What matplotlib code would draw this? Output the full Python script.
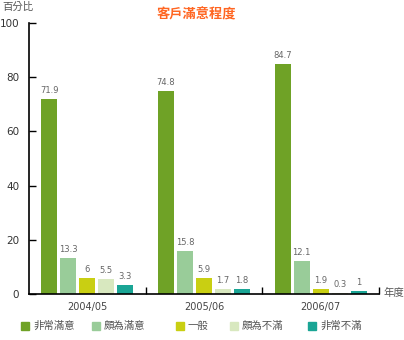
import matplotlib
matplotlib.use("Agg")
import matplotlib.pyplot as plt
import numpy as np

plt.rcParams["font.family"] = ["DejaVu Sans", "Noto Sans CJK TC"]

YEARS = ["2004/05", "2005/06", "2006/07"]
LEVELS = ["非常滿意", "頗為滿意", "一般", "頗為不滿", "非常不滿"]
VALUES = [
    [71.9, 74.8, 84.7],
    [13.3, 15.8, 12.1],
    [6, 5.9, 1.9],
    [5.5, 1.7, 0.3],
    [3.3, 1.8, 1],
]
COLORS = ["#6fa226", "#99cc99", "#c9cf12", "#d8e8bf", "#1aa595"]

fig = plt.figure(figsize=(4.04, 3.40), dpi=100)
ax = fig.add_axes([29 / 404, 1 - 294 / 340, 350 / 404, 271 / 340])

x = np.arange(len(YEARS))
step, width = 0.163, 0.137
for i, (lvl, vals, c) in enumerate(zip(LEVELS, VALUES, COLORS)):
    xs = x + (i - 2) * step
    ax.bar(xs, vals, width=width, color=c, label=lvl, zorder=2)
    for xi, v in zip(xs, vals):
        ax.text(xi, v + 1.5, f"{v:g}", ha="center", va="bottom",
                fontsize=6, color="#666666")

ax.set_xlim(-0.5, 2.5)
ax.set_ylim(0, 100)
ax.set_yticks(range(0, 101, 20))
ax.tick_params(axis="y", length=5, width=1, direction="in", labelsize=7.5,
               pad=7, labelcolor="#333333")
ax.set_xticks([0.5, 1.5, 2.5])
ax.set_xticklabels([])
ax.set_xticks(x, minor=True)
ax.set_xticklabels(YEARS, minor=True)
ax.tick_params(axis="x", which="major", length=5, width=1, direction="in")
ax.tick_params(axis="x", which="minor", length=0, labelsize=7,
               labelcolor="#444444", pad=6)
for s in ("top", "right"):
    ax.spines[s].set_visible(False)
for s in ("left", "bottom"):
    ax.spines[s].set_linewidth(1.2)

grey = "#555555"
fig.text(2 / 404, 1 - 7 / 340, "百分比", fontsize=7.5, color=grey,
         ha="left", va="center")
fig.text(383 / 404, 1 - 293 / 340, "年度", fontsize=7.5, color=grey,
         ha="left", va="center")
fig.text(196 / 404, 1 - 15 / 340, "客戶滿意程度", fontsize=9.5,
         color="#ff6622", fontweight="bold", ha="center", va="center")

# legend row along the bottom
sq_x = [21, 92, 176, 230, 308]
for lvl, c, sx in zip(LEVELS, COLORS, sq_x):
    fig.patches.append(plt.Rectangle((sx / 404, 1 - 330 / 340), 8 / 404,
                                     8 / 340, color=c,
                                     transform=fig.transFigure, figure=fig))
    fig.text((sx + 12) / 404, 1 - 326 / 340, lvl, fontsize=7.5,
             color=grey, ha="left", va="center")

fig.savefig("out.png", dpi=100)
